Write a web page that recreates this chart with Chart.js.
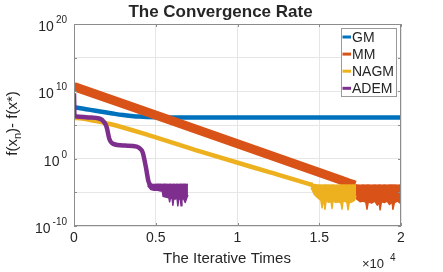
<!DOCTYPE html>
<html>
<head>
<meta charset="utf-8">
<script src="https://cdn.jsdelivr.net/npm/chart.js@4.4.1/dist/chart.umd.min.js"></script>
<style>
	html, body { margin: 0; padding: 0; background: #fff; }
</style>
</head>
<body>
<canvas id="chart" width="443" height="272"></canvas>
<script>
// values are log10 of f(x_n) - f(x*)
const seriesNames = ["GM", "MM", "NAGM", "ADEM"];
const seriesColors = ["#0072BD", "#D95319", "#EDB120", "#7E2F8E"];

const gmIter = [0, 500, 1000, 1500, 2000, 2500, 3000, 3500, 4000, 5000, 6000, 20000];
const gmLog = [7.65, 7.45, 7.25, 7.05, 6.85, 6.65, 6.48, 6.35, 6.25, 6.15, 6.12, 6.1];

const mmIter = [0, 16400, 16800, 17200];
const mmLog = [10.7, -3.25, -3.6, -3.9];
const mmFloorIter = [17100, 17300, 17500, 17700, 17850, 17920, 18000, 18200, 18400, 18550, 18650, 18720, 18800, 19000, 19150, 19300, 19450, 19510, 19600, 19800, 19950];
const mmFloorTop = [-3.85, -3.9, -3.95, -3.9, -3.95, -3.9, -3.9, -3.95, -3.9, -3.95, -3.9, -3.9, -3.95, -3.9, -3.95, -3.9, -3.9, -3.95, -3.9, -3.95, -3.9];
const mmFloorBottom = [-4.6, -6.0, -6.4, -6.3, -6.5, -7.5, -6.4, -6.6, -6.3, -6.9, -6.4, -7.6, -6.4, -6.5, -6.3, -6.8, -6.4, -7.5, -6.5, -6.3, -6.6];

const nagmIter = [0, 500, 1000, 1500, 2200, 4650, 7700, 12000, 14300, 14600];
const nagmLog = [6.05, 5.95, 5.75, 5.5, 5.15, 3.43, 1.09, -2.04, -3.7, -3.9];
const nagmFloorIter = [14500, 14700, 14900, 15100, 15170, 15250, 15300, 15350, 15420, 15600, 15720, 15780, 15850, 16000, 16200, 16330, 16390, 16450, 16600, 16700, 16760, 16850, 16900, 17000, 17150, 17250];
const nagmFloorTop = [-3.8, -3.85, -3.9, -3.9, -3.95, -3.9, -3.9, -3.95, -3.9, -3.9, -3.95, -3.9, -3.9, -3.95, -3.9, -3.9, -3.95, -3.9, -3.9, -3.95, -3.9, -3.9, -3.95, -3.9, -3.9, -3.9];
const nagmFloorBottom = [-4.3, -5.3, -5.8, -6.2, -7.3, -6.3, -6.4, -7.5, -6.3, -6.5, -6.3, -7.4, -6.2, -6.5, -6.4, -6.6, -7.5, -6.4, -6.3, -6.6, -7.6, -6.3, -6.5, -6.4, -6.2, -5.5];

const ademIter = [0, 30, 165, 856, 1590, 1835, 2000, 2160, 2400, 3120, 3835, 4040, 4200, 4400, 4545, 4650];
const ademLog = [9.7, 6.42, 6.27, 6.12, 5.93, 5.45, 4.67, 2.94, 2.19, 1.94, 1.79, 1.49, 0.94, -1.3, -3.28, -3.9];
const ademFloorIter = [4500, 4700, 4900, 5100, 5300, 5400, 5450, 5600, 5800, 5850, 5900, 6000, 6050, 6100, 6200, 6300, 6350, 6400, 6500, 6550, 6600, 6700, 6800, 6900, 6970];
const ademFloorTop = [-3.8, -3.8, -3.85, -3.8, -3.8, -3.85, -3.8, -3.8, -3.85, -3.8, -3.8, -3.85, -3.8, -3.8, -3.85, -3.8, -3.8, -3.85, -3.8, -3.8, -3.85, -3.8, -3.8, -3.85, -3.8];
const ademFloorBottom = [-4.0, -4.6, -4.7, -4.7, -4.8, -4.8, -5.6, -5.7, -5.8, -6.4, -5.8, -5.9, -6.9, -5.9, -6.0, -5.8, -7.0, -6.0, -5.9, -7.0, -6.0, -5.9, -6.5, -5.8, -5.4];

const xTicks = [0, 5000, 10000, 15000, 20000];
const yGridExps = [-10, -5, 0, 5, 10, 15, 20];
const yLabelExps = [-10, 0, 10, 20];

const FONT = "'Liberation Sans', Arial, sans-serif";
const TEXT = "#262626";
const AXIS = "#8c8c8c";
const GRID = "#e6e6e6";

function toPoints(iters, logs) {
	return iters.map(function(it, i) {
		return {x: it, y: Math.pow(10, logs[i])};
	});
}

function lineSet(label, iters, logs, color, width, order) {
	return {
		label: label,
		data: toPoints(iters, logs),
		borderColor: color,
		backgroundColor: color,
		borderWidth: width,
		borderJoinStyle: "round",
		cubicInterpolationMode: "monotone",
		pointRadius: 0,
		fill: false,
		order: order
	};
}

function floorSets(label, iters, top, bottom, color, order) {
	const upper = lineSet(label + " floor", iters, top, color, 1.5, order);
	upper.cubicInterpolationMode = "default";
	upper.fill = "+1";
	const lower = lineSet(label + " floor low", iters, bottom, color, 1.5, order);
	lower.cubicInterpolationMode = "default";
	return [upper, lower];
}

const datasets = [
	lineSet("ADEM", ademIter, ademLog, seriesColors[3], 4.5, 1),
	...floorSets("ADEM", ademFloorIter, ademFloorTop, ademFloorBottom, seriesColors[3], 1),
	lineSet("NAGM", nagmIter, nagmLog, seriesColors[2], 4.5, 2),
	...floorSets("NAGM", nagmFloorIter, nagmFloorTop, nagmFloorBottom, seriesColors[2], 2),
	lineSet("MM", mmIter, mmLog, seriesColors[1], 9, 3),
	...floorSets("MM", mmFloorIter, mmFloorTop, mmFloorBottom, seriesColors[1], 3),
	lineSet("GM", gmIter, gmLog, seriesColors[0], 4.5, 4)
];

const decorations = {
	id: "decorations",
	afterDraw(chart) {
		const ctx = chart.ctx;
		const a = chart.chartArea;
		const xs = chart.scales.x;
		const ys = chart.scales.y;
		ctx.save();

		// axes box and inward ticks
		ctx.strokeStyle = AXIS;
		ctx.lineWidth = 1;
		ctx.strokeRect(a.left + 0.5, a.top + 0.5, a.right - a.left - 1, a.bottom - a.top - 1);
		ctx.beginPath();
		for(const v of xTicks) {
			const px = Math.round(xs.getPixelForValue(v)) + 0.5;
			ctx.moveTo(px, a.bottom); ctx.lineTo(px, a.bottom - 3);
			ctx.moveTo(px, a.top); ctx.lineTo(px, a.top + 3);
		}
		for(const e of yGridExps) {
			const py = Math.round(ys.getPixelForValue(Math.pow(10, e))) + 0.5;
			ctx.moveTo(a.left, py); ctx.lineTo(a.left + 3, py);
			ctx.moveTo(a.right, py); ctx.lineTo(a.right - 3, py);
		}
		ctx.stroke();

		ctx.fillStyle = TEXT;
		ctx.textBaseline = "alphabetic";

		// y tick labels 10^e
		for(const e of yLabelExps) {
			const py = ys.getPixelForValue(Math.pow(10, e));
			const sup = String(e);
			ctx.font = "10px " + FONT;
			const ws = ctx.measureText(sup).width;
			ctx.textAlign = "left";
			ctx.fillText(sup, 67 - ws, py - 1);
			ctx.font = "14px " + FONT;
			const wb = ctx.measureText("10").width;
			ctx.fillText("10", 67 - ws - 2 - wb, py + 7);
		}

		// x exponent
		ctx.font = "13px " + FONT;
		ctx.textAlign = "left";
		ctx.fillText("\u00d710", 362, 268);
		ctx.font = "10px " + FONT;
		ctx.fillText("4", 390, 261);

		// title and x label
		ctx.textAlign = "center";
		ctx.font = "bold 17px " + FONT;
		ctx.fillText("The Convergence Rate", 220.5, 17);
		ctx.font = "15px " + FONT;
		ctx.fillText("The Iterative Times", 227, 263);

		// y label, rotated
		ctx.save();
		ctx.translate(17, 123.5);
		ctx.rotate(-Math.PI / 2);
		ctx.textAlign = "left";
		const parts = [["f(x", 15, 0], ["n", 11, 4], [")- f(x*)", 15, 0]];
		let total = 0;
		for(const p of parts) {
			ctx.font = p[1] + "px " + FONT;
			total += ctx.measureText(p[0]).width;
		}
		let cx = -total / 2;
		for(const p of parts) {
			ctx.font = p[1] + "px " + FONT;
			ctx.fillText(p[0], cx, p[2]);
			cx += ctx.measureText(p[0]).width;
		}
		ctx.restore();

		// legend
		const lx = 341, ly = 28, lw = 56, lh = 69;
		ctx.fillStyle = "#fff";
		ctx.fillRect(lx, ly, lw, lh);
		ctx.strokeStyle = "#9a9a9a";
		ctx.strokeRect(lx + 0.5, ly + 0.5, lw - 1, lh - 1);
		ctx.font = "14px " + FONT;
		ctx.textAlign = "left";
		ctx.textBaseline = "middle";
		for(let i = 0; i < seriesNames.length; i++) {
			const ry = 37 + i * 17.1;
			ctx.strokeStyle = seriesColors[i];
			ctx.lineWidth = 3;
			ctx.beginPath();
			ctx.moveTo(342.5, ry); ctx.lineTo(351, ry);
			ctx.stroke();
			ctx.fillStyle = TEXT;
			ctx.fillText(seriesNames[i], 352, ry + 1);
		}
		ctx.restore();
	}
};

new Chart(document.getElementById("chart"), {
	type: "line",
	data: {datasets: datasets},
	options: {
		responsive: false,
		animation: false,
		devicePixelRatio: 1,
		layout: {padding: {top: 24, right: 42, left: 0, bottom: 0}},
		plugins: {
			legend: {display: false},
			tooltip: {enabled: false},
			title: {display: false}
		},
		scales: {
			x: {
				type: "linear",
				min: 0,
				max: 20000,
				afterBuildTicks: function(scale) {
					scale.ticks = xTicks.map(function(v) { return {value: v}; });
				},
				afterFit: function(scale) { scale.height = 46; },
				ticks: {
					callback: function(v) { return String(v / 10000); },
					font: {family: FONT, size: 14},
					color: TEXT,
					padding: 4,
					maxRotation: 0
				},
				grid: {color: GRID, drawTicks: false},
				border: {display: false}
			},
			y: {
				type: "logarithmic",
				min: 1e-10,
				max: 1e20,
				afterBuildTicks: function(scale) {
					scale.ticks = yGridExps.map(function(e) { return {value: Math.pow(10, e)}; });
				},
				afterFit: function(scale) { scale.width = 74; },
				ticks: {display: false},
				grid: {color: GRID, drawTicks: false},
				border: {display: false}
			}
		}
	},
	plugins: [decorations]
});
</script>
</body>
</html>
